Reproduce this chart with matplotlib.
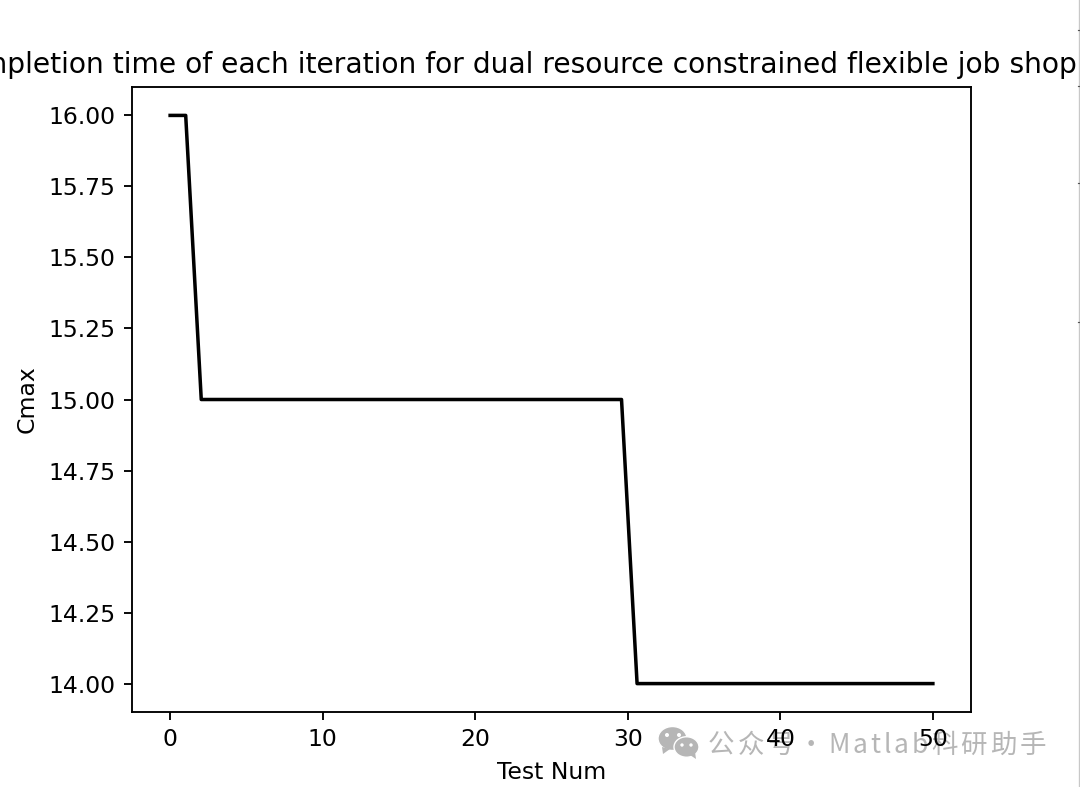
import matplotlib
matplotlib.use("Agg")
import matplotlib.pyplot as plt
from matplotlib.patches import Ellipse, Polygon, Circle
from matplotlib.lines import Line2D
from matplotlib.ticker import FormatStrFormatter
from matplotlib.transforms import IdentityTransform

W, H = 1080, 787
DPI = 168.75

test_num = [0, 1.02, 2.04, 29.59, 30.61, 50]
cmax = [16, 16, 15, 15, 14, 14]
title = "Completion time of each iteration for dual resource constrained flexible job shop"
xlabel = "Test Num"
ylabel = "Cmax"
watermark_parts = [("公众号", 708), ("·", 798), ("Matlab科研助手", 828)]

plt.rcParams['font.family'] = ['DejaVu Sans']
fig = plt.figure(figsize=(W / DPI, H / DPI), dpi=DPI)
ax = fig.add_axes([132 / W, 1 - 712 / H, (971 - 132) / W, (712 - 87) / H])
ax.plot(test_num, cmax, color='black', linewidth=1.5)
ax.set_title(title, fontsize=12, x=0.5 - 42 / 839)
ax.set_xlabel(xlabel, fontsize=10)
ax.set_ylabel(ylabel, fontsize=10)
ax.set_xlim(-2.5, 52.5)
ax.set_ylim(13.9, 16.1)
ax.set_yticks([14, 14.25, 14.5, 14.75, 15, 15.25, 15.5, 15.75, 16])
ax.yaxis.set_major_formatter(FormatStrFormatter('%.2f'))
ax.set_xticks([0, 10, 20, 30, 40, 50])

# page-edge rule with its stray tick fragments
tr = IdentityTransform()
fig.add_artist(Line2D([1079.5, 1079.5], [0, H], transform=tr, color='#c8c8c8', lw=1))
for y in [30, 86, 183, 322]:
    fig.add_artist(Line2D([1078, 1080], [H - y, H - y], transform=tr, color='#555555', lw=0.5))

# watermark, under the axes and tick labels
grey = '#b6b6b6'
for (cx, cy, w, h) in [(672.5, H - 738.5, 29, 24), (686.5, H - 747, 25, 20.5)]:
    fig.add_artist(Ellipse((cx, cy), w, h, transform=tr, facecolor=grey, edgecolor='white',
                           lw=0.6, zorder=-3))
fig.add_artist(Polygon([(662, H - 747), (663, H - 754), (670, H - 749)], closed=True, transform=tr,
                       facecolor=grey, edgecolor='none', zorder=-3))
fig.add_artist(Polygon([(690, H - 755), (696, H - 759), (695, H - 752)], closed=True, transform=tr,
                       facecolor=grey, edgecolor='none', zorder=-3))
for (cx, cy, r) in [(667, H - 735, 2), (679, H - 735, 2), (682, H - 745, 1.7), (691, H - 745, 1.7)]:
    fig.add_artist(Circle((cx, cy), r, transform=tr, facecolor='white', edgecolor='none', zorder=-2))

renderer = fig.canvas.get_renderer()
spacing = 3.0
for part, start in watermark_parts:
    px = start
    for ch in part:
        t = fig.text(px / W, 1 - 742.5 / H, ch, family=['Noto Sans CJK SC', 'DejaVu Sans'],
                     fontsize=11.3, color=grey, va='center_baseline', ha='left', zorder=-1)
        px += t.get_window_extent(renderer).width + spacing

fig.savefig('out.png', dpi=DPI)
